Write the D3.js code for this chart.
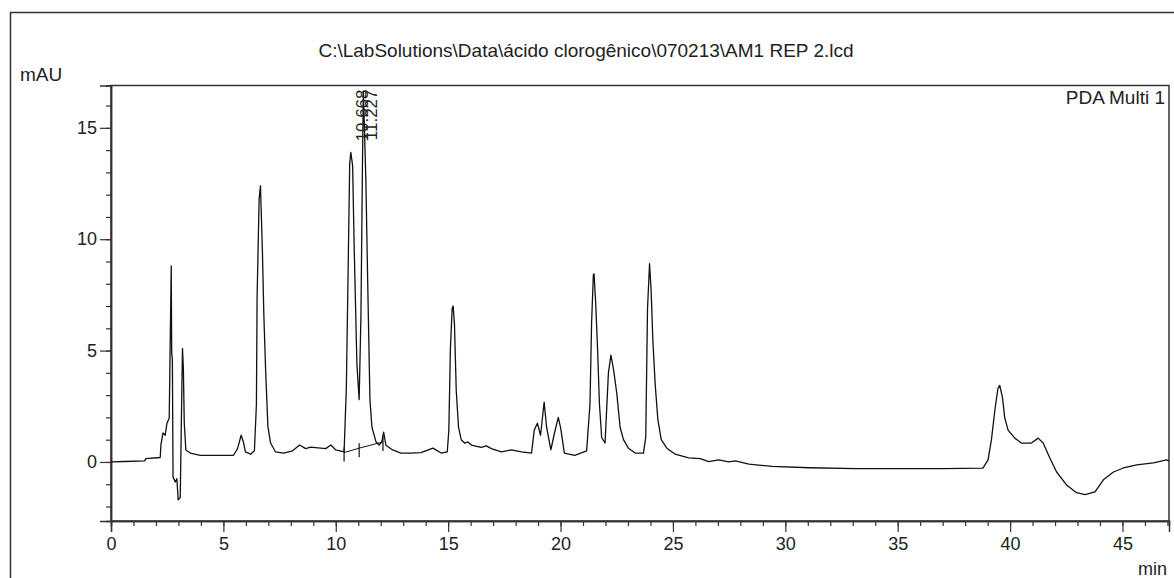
<!DOCTYPE html>
<html>
<head>
<meta charset="utf-8">
<script src="https://cdn.jsdelivr.net/npm/d3@7"></script>
<style>
  html, body { margin: 0; padding: 0; background: #fff; }
  svg { display: block; }
  text { font-family: "Liberation Sans", Arial, sans-serif; fill: #222; }
</style>
</head>
<body>
<svg id="chart" width="1174" height="578"></svg>
<script>
// Chromatogram trace: retention time (min) and absorbance (mAU)
const times = [
  0, 0.6, 1.5, 1.55, 2.19, 2.22, 2.31, 2.41, 2.49, 2.59, 2.68, 2.70, 2.73, 2.76, 2.86, 2.93, 2.99, 3.08,
  3.18, 3.22, 3.26, 3.33, 3.53, 3.97, 5.45, 5.63, 5.79, 5.89, 5.98, 6.21, 6.38, 6.47, 6.50, 6.59, 6.65,
  6.74, 6.80, 6.88, 6.98, 7.10, 7.32, 7.68, 8.08, 8.39, 8.66, 8.88, 9.33, 9.55, 9.78, 10.0, 10.37, 10.47,
  10.56, 10.62, 10.668, 10.75, 10.82, 10.94, 11.04, 11.12, 11.19, 11.227, 11.28, 11.34, 11.42, 11.52,
  11.61, 11.79, 11.93, 12.05, 12.13, 12.23, 12.53, 12.90, 13.35, 13.79, 14.32, 14.69, 14.96, 15.03,
  15.10, 15.18, 15.22, 15.28, 15.36, 15.46, 15.58, 15.73, 15.88, 16.03, 16.47, 16.70, 16.92, 17.37,
  17.81, 18.26, 18.71, 18.83, 18.97, 19.11, 19.27, 19.38, 19.57, 19.73, 19.90, 20.01, 20.17, 20.63,
  21.16, 21.31, 21.38, 21.46, 21.49, 21.56, 21.65, 21.73, 21.83, 21.98, 22.13, 22.24, 22.35, 22.50,
  22.65, 22.80, 23.02, 23.32, 23.69, 23.79, 23.87, 23.96, 24.03, 24.11, 24.21, 24.33, 24.48, 24.73,
  25.10, 25.70, 26.22, 26.59, 27.04, 27.48, 27.78, 28.38, 29.42, 31.06, 33.14, 37.01, 38.79, 39.02,
  39.17, 39.32, 39.46, 39.54, 39.66, 39.76, 39.91, 40.21, 40.50, 40.95, 41.25, 41.47, 41.77, 42.07,
  42.51, 42.96, 43.33, 43.78, 44.15, 44.60, 45.04, 45.63, 46.38, 46.96, 47.07
];
const mAU = [
  0.0, 0.02, 0.05, 0.15, 0.2, 0.76, 1.3, 1.2, 1.74, 1.96, 8.8, 4.9, 4.6, -0.68, -0.9, -0.75, -1.7, -1.6,
  5.1, 4.2, 1.74, 0.54, 0.4, 0.3, 0.3, 0.6, 1.2, 0.9, 0.45, 0.35, 0.5, 2.6, 7.4, 11.8, 12.4,
  9.3, 6.6, 4.1, 1.6, 0.85, 0.45, 0.4, 0.5, 0.76, 0.6, 0.67, 0.62, 0.6, 0.76, 0.54, 0.45, 3.3,
  9.3, 13.4, 13.9, 13.3, 9.6, 4.4, 2.8, 6.6, 13.6, 16.6, 14.8, 12.6, 8.1, 2.8,
  1.56, 0.9, 0.76, 0.9, 1.34, 0.75, 0.54, 0.4, 0.4, 0.42, 0.62, 0.4, 0.45, 1.43,
  5.1, 6.9, 7.0, 6.2, 3.2, 1.56, 1.0, 0.85, 0.9, 0.76, 0.65, 0.72, 0.6, 0.45,
  0.54, 0.45, 0.4, 1.43, 1.74, 1.2, 2.68, 1.56, 0.54, 1.3, 2.0, 1.5, 0.4, 0.3,
  0.5, 2.6, 6.2, 8.4, 8.45, 7.2, 5.0, 2.6, 1.1, 0.85, 4.0, 4.8, 4.2, 3.1,
  1.56, 1.0, 0.62, 0.4, 0.4, 1.1, 6.9, 8.9, 7.7, 5.4, 3.5, 1.9, 1.0, 0.62,
  0.35, 0.18, 0.15, 0.02, 0.09, 0.0, 0.05, -0.1, -0.2, -0.26, -0.3, -0.3, -0.28, 0.09,
  1.0, 2.3, 3.3, 3.44, 2.9, 2.0, 1.43, 1.07, 0.85, 0.85, 1.07, 0.85, 0.18, -0.45,
  -1.03, -1.38, -1.47, -1.34, -0.8, -0.45, -0.27, -0.13, -0.04, 0.09, 0.05
];

// Axis tick values and annotations
const xTicks = [0, 5, 10, 15, 20, 25, 30, 35, 40, 45];
const xMinorTicks = d3.range(0, 48, 1);
const yTicks = [0, 5, 10, 15];
const yMinorTicks = d3.range(-2, 17, 1);
const peakTimes = [10.668, 11.227];
const peakLabels = ["10.668", "11.227"];
// Integration baseline under the labelled pair: start, valley drop, end (min, mAU)
const baseTimes = [10.37, 11.04, 12.10];
const baseValues = [0.42, 0.62, 0.90];

const titleText = "C:\\LabSolutions\\Data\\ácido clorogênico\\070213\\AM1 REP 2.lcd";

const svg = d3.select("#chart");
const plot = { left: 111, right: 1169, top: 85.5, bottom: 521 };

const x = d3.scaleLinear().domain([0, 47.07]).range([plot.left, plot.right]);
const y = d3.scaleLinear().domain([-2.65, 16.9]).range([plot.bottom, plot.top]);

// Outer frame (left and top edges)
svg.append("path")
  .attr("d", "M10.5,578 V12.5 H1174")
  .attr("fill", "none").attr("stroke", "#333").attr("stroke-width", 1.5);

// Plot frame
svg.append("rect")
  .attr("x", plot.left).attr("y", plot.top)
  .attr("width", plot.right - plot.left).attr("height", plot.bottom - plot.top)
  .attr("fill", "none").attr("stroke", "#333").attr("stroke-width", 1.5);

const FS = 18;

// X axis: minor ticks every minute, labelled major ticks every 5 minutes
const gxMinor = svg.append("g").attr("transform", `translate(0,${plot.bottom})`)
  .call(d3.axisBottom(x).tickValues(xMinorTicks).tickSize(5).tickFormat(""));
const gxMajor = svg.append("g").attr("transform", `translate(0,${plot.bottom})`)
  .call(d3.axisBottom(x).tickValues(xTicks).tickSize(11).tickPadding(5).tickFormat(d3.format("d")));

// Y axis
const gyMinor = svg.append("g").attr("transform", `translate(${plot.left},0)`)
  .call(d3.axisLeft(y).tickValues(yMinorTicks).tickSize(5).tickFormat(""));
const gyMajor = svg.append("g").attr("transform", `translate(${plot.left},0)`)
  .call(d3.axisLeft(y).tickValues(yTicks).tickSize(11).tickPadding(3).tickFormat(d3.format("d")));

[gxMinor, gxMajor, gyMinor, gyMajor].forEach(g => {
  g.select(".domain").attr("stroke", "#333").attr("stroke-width", 1.5);
  g.selectAll(".tick line").attr("stroke", "#333").attr("stroke-width", 1.2);
  g.selectAll(".tick text").attr("font-size", FS).attr("font-family", "Liberation Sans, Arial, sans-serif").attr("fill", "#222");
});

// Chromatogram trace
const pts = times.map((t, i) => [t, mAU[i]]);
svg.append("path")
  .datum(pts)
  .attr("fill", "none")
  .attr("stroke", "#111")
  .attr("stroke-width", 1.3)
  .attr("stroke-linejoin", "round")
  .attr("d", d3.line().x(d => x(d[0])).y(d => y(d[1])));

// Integration baseline and its start / end marks
svg.append("path")
  .datum(baseTimes.map((t, i) => [t, baseValues[i]]))
  .attr("fill", "none").attr("stroke", "#111").attr("stroke-width", 1)
  .attr("d", d3.line().x(d => x(d[0])).y(d => y(d[1])));
svg.selectAll("line.mark")
  .data(baseTimes.map((t, i) => [t, baseValues[i]]))
  .join("line")
  .attr("class", "mark")
  .attr("x1", d => x(d[0])).attr("x2", d => x(d[0]))
  .attr("y1", d => y(d[1]) - 5).attr("y2", d => y(d[1]) + 9)
  .attr("stroke", "#111").attr("stroke-width", 1.2);

// Retention-time labels, rotated, stacked against the top of the plot
const labelOffsets = [11, 8];
svg.selectAll("text.rt")
  .data(peakTimes)
  .join("text")
  .attr("class", "rt")
  .attr("transform", (d, i) => `translate(${x(d) + labelOffsets[i] + 6},${plot.top + 4}) rotate(-90)`)
  .attr("text-anchor", "end")
  .attr("font-size", 17)
  .text((d, i) => peakLabels[i]);

// Titles and axis captions
svg.append("text").attr("x", 586).attr("y", 57).attr("text-anchor", "middle")
  .attr("font-size", 19).text(titleText);
svg.append("text").attr("x", 20).attr("y", 81).attr("font-size", 19).text("mAU");
svg.append("text").attr("x", 1165).attr("y", 104).attr("text-anchor", "end")
  .attr("font-size", 19).text("PDA Multi 1");
svg.append("text").attr("x", 1167).attr("y", 575).attr("text-anchor", "end")
  .attr("font-size", 18).text("min");
</script>
</body>
</html>
